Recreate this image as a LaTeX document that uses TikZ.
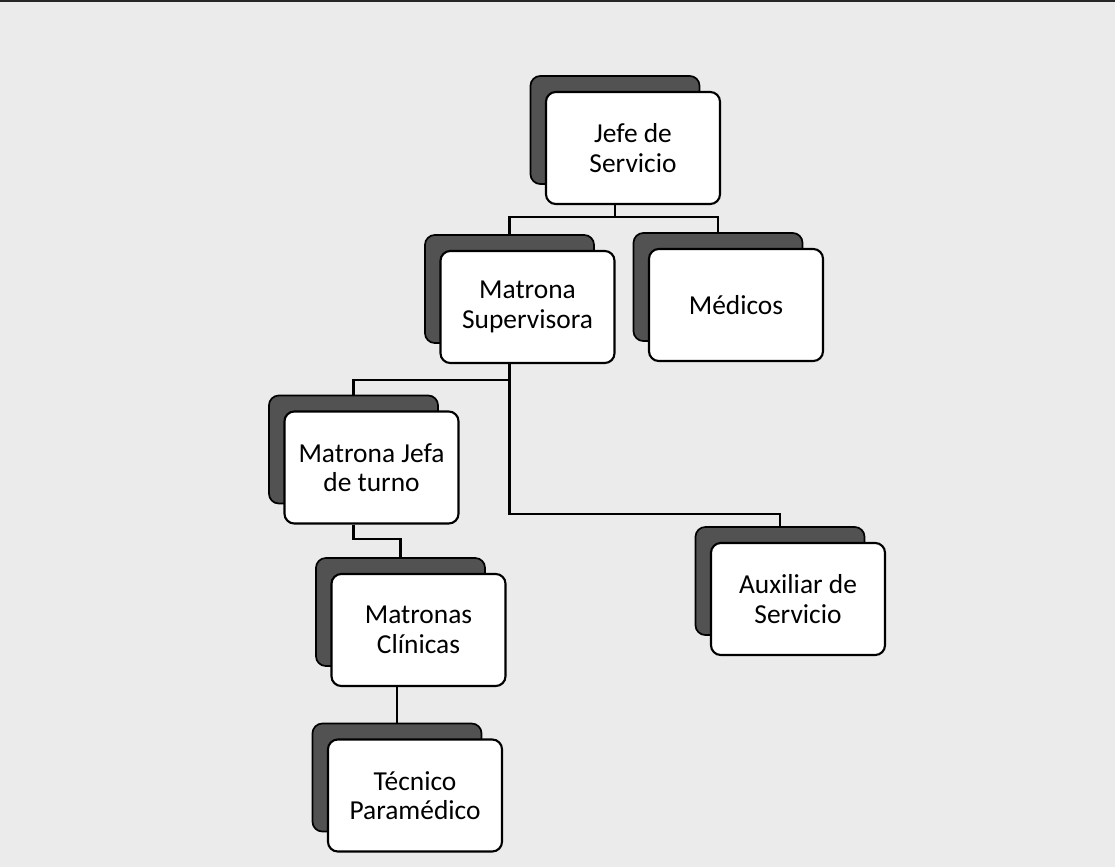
\documentclass[tikz,border=0pt]{standalone}
\usepackage{fontspec}
\setmainfont{Carlito}
\usepackage{tikz}
\usetikzlibrary{calc}
\usepackage{xcolor}

\begin{document}
\begin{tikzpicture}[
			x=0.025cm, y=-0.025cm,
			card/.style={rectangle, draw=black, fill=white, line width=1.5pt,
				minimum width=4.35cm, minimum height=2.8cm, rounded corners=7pt,
				align=center, inner sep=0pt, font=\fontsize{19.5}{21}\selectfont},
			back/.style={rectangle, draw=black, fill=black!68, line width=1.2pt,
				minimum width=4.225cm, minimum height=2.7cm, rounded corners=7pt},
			link/.style={draw=black, line width=1.5pt},
			]
			% paper
			\fill[black!8] (0,0) rectangle (1115,867);
			\fill[black!85] (0,0) rectangle (1115,2.5);
			
			\node[back] (jefeS) at (615,130) {};
			\node[card] (jefe) at ([shift={(18,18)}]jefeS) {Jefe de\\Servicio};
			
			\node[back] (supS) at (509.5,289) {};
			\node[card] (sup) at ([shift={(18,18)}]supS) {Matrona\\Supervisora};
			
			\node[back] (medS) at (718,287) {};
			\node[card] (med) at ([shift={(18,18)}]medS) {Médicos};
			
			\node[back] (jefaS) at (353.5,449.5) {};
			\node[card] (jefa) at ([shift={(18,18)}]jefaS) {Matrona Jefa\\de turno};
			
			\node[back] (clinS) at (400.5,612) {};
			\node[card] (clin) at ([shift={(18,18)}]clinS) {Matronas\\Clínicas};
			
			\node[back] (auxS) at (780,581) {};
			\node[card] (aux) at ([shift={(18,18)}]auxS) {Auxiliar de\\Servicio};
			
			\node[back] (tecS) at (397,777.5) {};
			\node[card] (tec) at ([shift={(18,18)}]tecS) {Técnico\\Paramédico};
			
			% lines
			\draw[link] (jefeS |- jefe.south) -- ++(0,12) -| (supS.north);
			\draw[link] (jefeS |- jefe.south) -- ++(0,12) -| (medS.north);
			\draw[link] (supS |- sup.south) -- ++(0,16) -| (jefaS.north);
			\draw[link] (supS |- sup.south) -- ++(0,150) -| (auxS.north);
			\draw[link] (jefaS |- jefa.south) -- ++(0,14) -| (clinS.north);
			\draw[link] (tecS |- clin.south) -- (tecS.north);
		\end{tikzpicture}
\end{document}
